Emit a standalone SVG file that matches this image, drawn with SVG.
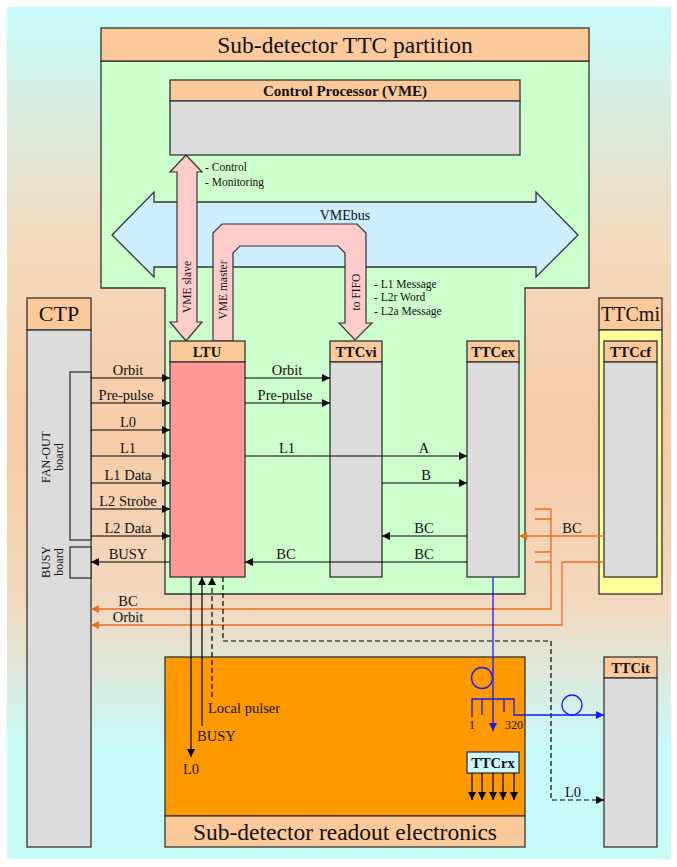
<svg xmlns="http://www.w3.org/2000/svg" width="677" height="867" viewBox="0 0 677 867">
<defs>
<linearGradient id="bg" gradientUnits="userSpaceOnUse" x1="0" y1="7" x2="0" y2="859">
<stop offset="0" stop-color="#c6fbfb"/>
<stop offset="0.28" stop-color="#f3d9bd"/>
<stop offset="0.5" stop-color="#f7cba6"/>
<stop offset="0.7" stop-color="#f2d8bf"/>
<stop offset="0.87" stop-color="#c8fafa"/>
<stop offset="1" stop-color="#c8fafa"/>
</linearGradient>
<marker id="ab" viewBox="0 0 10 10" refX="10" refY="5" markerWidth="9" markerHeight="8" markerUnits="userSpaceOnUse" orient="auto"><path d="M0,0 L10,5 L0,10 z" fill="#000"/></marker>
<marker id="ao" viewBox="0 0 10 10" refX="10" refY="5" markerWidth="9" markerHeight="8" markerUnits="userSpaceOnUse" orient="auto"><path d="M0,0 L10,5 L0,10 z" fill="#f26a1b"/></marker>
<marker id="abl" viewBox="0 0 10 10" refX="10" refY="5" markerWidth="9" markerHeight="8" markerUnits="userSpaceOnUse" orient="auto"><path d="M0,0 L10,5 L0,10 z" fill="#1a1aff"/></marker>
</defs>
<style>
text{font-family:"Liberation Serif","Times New Roman",serif;fill:#111}
.hd{fill:#fcc99a;stroke:#333;stroke-width:1.3}
.gb{fill:#dcdcdc;stroke:#333;stroke-width:1.3}
.big{font-size:23.5px;text-anchor:middle}
.bt{font-size:14.5px;font-weight:bold;text-anchor:middle}
.lb{font-size:14.5px;text-anchor:middle}
.sm{font-size:11.5px}
.rt{font-size:12px;text-anchor:middle}
.ln{stroke:#000;stroke-width:1.2;fill:none}
.or{stroke:#f26a1b;stroke-width:1.3;fill:none}
.bl{stroke:#1a1aff;stroke-width:1.3;fill:none}
.da{stroke:#000;stroke-width:1.2;fill:none;stroke-dasharray:5,3}
</style>
<rect x="0" y="0" width="677" height="867" fill="#fff"/>
<rect x="7" y="7" width="664" height="852" fill="url(#bg)"/>

<g id="ttc-partition">
<path d="M101,61 H589 V288 H525 V594 H165 V288 H101 Z" fill="#ccffcc" stroke="#333" stroke-width="1.3"/>
<rect class="hd" x="101" y="28" width="488" height="33"/>
<text class="big" x="345" y="53">Sub-detector TTC partition</text>
</g>

<g id="control-processor">
<rect class="hd" x="170" y="80" width="350" height="21"/>
<rect class="gb" x="170" y="101" width="350" height="54"/>
<text class="bt" x="345" y="96" style="font-size:15px">Control Processor (VME)</text>
</g>

<g id="vmebus">
<polygon points="112,235 154,192 154,202 536,202 536,192 578,235 536,277 536,267 154,267 154,277" fill="#cceeff" stroke="#333" stroke-width="1.3"/>
<text x="345" y="220" style="font-size:14px;text-anchor:middle">VMEbus</text>
</g>

<g id="vme-slave">
<polygon points="186,155 202,172 197,172 197,322 202,322 186,341 170,322 177,322 177,172 170,172" fill="#ffcccc" stroke="#333" stroke-width="1.2"/>
<text class="sm" transform="translate(191,287) rotate(-90)" text-anchor="middle">VME slave</text>
<text class="sm" x="205" y="171">- Control</text>
<text class="sm" x="205" y="186">- Monitoring</text>
</g>

<g id="vme-master">
<path d="M213,341 V233 L222,224 H357 L366,233 V323 H372 L355,340 L339,323 H345 V253 L338,246 H240 L233,253 V341 Z" fill="#ffcccc" stroke="#333" stroke-width="1.2"/>
<text class="sm" transform="translate(227,290) rotate(-90)" text-anchor="middle">VME master</text>
<text class="sm" transform="translate(360,292) rotate(-90)" text-anchor="middle">to FIFO</text>
<text class="sm" x="374" y="288">- L1 Message</text>
<text class="sm" x="374" y="301">- L2r Word</text>
<text class="sm" x="374" y="315">- L2a Message</text>
</g>

<g id="ctp">
<rect class="hd" x="27" y="298" width="64" height="32"/>
<text x="59" y="321" style="font-size:22px;text-anchor:middle">CTP</text>
<rect class="gb" x="27" y="330" width="64" height="517"/>
<rect class="gb" x="70" y="372" width="21" height="168"/>
<text class="rt" transform="translate(50,457) rotate(-90)">FAN-OUT</text>
<text class="rt" transform="translate(63,457) rotate(-90)">board</text>
<rect class="gb" x="70" y="547" width="21" height="31"/>
<text class="rt" transform="translate(50,562) rotate(-90)">BUSY</text>
<text class="rt" transform="translate(63,562) rotate(-90)">board</text>
</g>

<g id="ltu">
<rect class="hd" x="170" y="341" width="75" height="21"/>
<text class="bt" x="207" y="357">LTU</text>
<rect x="170" y="362" width="75" height="215" fill="#ff9999" stroke="#333" stroke-width="1.3"/>
</g>

<g id="ttcvi">
<rect class="hd" x="330" y="341" width="52" height="21"/>
<text class="bt" x="356" y="357">TTCvi</text>
<rect class="gb" x="330" y="362" width="52" height="215"/>
</g>

<g id="ttcex">
<rect class="hd" x="467" y="341" width="52" height="21"/>
<text class="bt" x="493" y="357">TTCex</text>
<rect class="gb" x="467" y="362" width="52" height="215"/>
</g>

<g id="ttcmi">
<rect class="hd" x="599" y="298" width="63" height="32"/>
<text x="630.5" y="321" style="font-size:20px;text-anchor:middle">TTCmi</text>
<rect x="599" y="330" width="63" height="264" fill="#ffff99" stroke="#333" stroke-width="1.3"/>
</g>

<g id="ttccf">
<rect class="hd" x="604" y="341" width="53" height="21"/>
<text class="bt" x="630.5" y="357">TTCcf</text>
<rect class="gb" x="604" y="362" width="53" height="215"/>
</g>

<g id="readout">
<rect x="165" y="657" width="360" height="159" fill="#ff9900" stroke="#333" stroke-width="1.3"/>
<rect class="hd" x="165" y="816" width="360" height="31"/>
<text class="big" x="345" y="840">Sub-detector readout electronics</text>
</g>

<g id="ttcrx">
<rect x="467" y="752" width="52" height="21" fill="#ccf7ff" stroke="#333" stroke-width="1.3"/>
<text class="bt" x="493" y="768">TTCrx</text>
</g>

<g id="ttcit">
<rect class="hd" x="604" y="657" width="53" height="21"/>
<text class="bt" x="630.5" y="673">TTCit</text>
<rect class="gb" x="604" y="678" width="53" height="169"/>
</g>

<g id="connectors">
<!-- CTP to LTU -->
<line class="ln" x1="91" y1="378" x2="170" y2="378" marker-end="url(#ab)"/>
<line class="ln" x1="91" y1="403" x2="170" y2="403" marker-end="url(#ab)"/>
<line class="ln" x1="91" y1="430" x2="170" y2="430" marker-end="url(#ab)"/>
<line class="ln" x1="91" y1="456" x2="170" y2="456" marker-end="url(#ab)"/>
<line class="ln" x1="91" y1="483" x2="170" y2="483" marker-end="url(#ab)"/>
<line class="ln" x1="91" y1="509" x2="170" y2="509" marker-end="url(#ab)"/>
<line class="ln" x1="91" y1="536" x2="170" y2="536" marker-end="url(#ab)"/>
<line class="ln" x1="170" y1="562" x2="91" y2="562" marker-end="url(#ab)"/>
<text class="lb" x="128" y="375">Orbit</text>
<text class="lb" x="126" y="400">Pre-pulse</text>
<text class="lb" x="128" y="427">L0</text>
<text class="lb" x="128" y="453">L1</text>
<text class="lb" x="128" y="480">L1 Data</text>
<text class="lb" x="128" y="506">L2 Strobe</text>
<text class="lb" x="128" y="533">L2 Data</text>
<text class="lb" x="128" y="559">BUSY</text>
<!-- LTU to TTCvi / TTCex -->
<line class="ln" x1="245" y1="378" x2="330" y2="378" marker-end="url(#ab)"/>
<line class="ln" x1="245" y1="403" x2="330" y2="403" marker-end="url(#ab)"/>
<line class="ln" x1="245" y1="456" x2="467" y2="456" marker-end="url(#ab)"/>
<line class="ln" x1="382" y1="483" x2="467" y2="483" marker-end="url(#ab)"/>
<line class="ln" x1="467" y1="536" x2="382" y2="536" marker-end="url(#ab)"/>
<line class="ln" x1="467" y1="562" x2="245" y2="562" marker-end="url(#ab)"/>
<text class="lb" x="287" y="375">Orbit</text>
<text class="lb" x="285" y="400">Pre-pulse</text>
<text class="lb" x="287" y="453">L1</text>
<text class="lb" x="424" y="453">A</text>
<text class="lb" x="426" y="480">B</text>
<text class="lb" x="424" y="533">BC</text>
<text class="lb" x="424" y="559">BC</text>
<text class="lb" x="286" y="559">BC</text>
<!-- orange -->
<line class="or" x1="604" y1="536" x2="519" y2="536" marker-end="url(#ao)"/>
<text class="lb" x="572" y="533">BC</text>
<path class="or" d="M535,509 H551 V609 H91" marker-end="url(#ao)"/>
<path class="or" d="M535,519 H551 M535,552 H551 M535,562 H551"/>
<path class="or" d="M604,562 H562 V625 H91" marker-end="url(#ao)"/>
<text class="lb" x="128" y="606">BC</text>
<text class="lb" x="128" y="622">Orbit</text>
<!-- dashed L0 to TTCit -->
<path class="da" d="M223,577 V641 H551 V800 H604" marker-end="url(#ab)"/>
<text class="lb" x="573" y="797">L0</text>
<!-- LTU bottom -->
<line class="ln" x1="191" y1="577" x2="191" y2="757" marker-end="url(#ab)"/>
<line class="ln" x1="202" y1="726" x2="202" y2="577" marker-end="url(#ab)"/>
<line class="da" x1="212" y1="697" x2="212" y2="577" marker-end="url(#ab)"/>
<text class="lb" x="191" y="774">L0</text>
<text x="197" y="741" style="font-size:14.5px">BUSY</text>
<text x="208" y="713" style="font-size:14.5px">Local pulser</text>
<!-- blue optical -->
<line class="bl" x1="493" y1="577" x2="493" y2="731" marker-end="url(#abl)"/>
<circle class="bl" cx="482" cy="678" r="10.5"/>
<path class="bl" d="M472,717 V699 H514 V715 H604" marker-end="url(#abl)"/>
<path class="bl" d="M482,699 V715 M504,699 V712"/>
<circle class="bl" cx="572" cy="705" r="10"/>
<text x="472" y="729" style="font-size:12px;text-anchor:middle">1</text>
<text x="514" y="729" style="font-size:12px;text-anchor:middle">320</text>
<!-- TTCrx outputs -->
<line class="ln" x1="472" y1="773" x2="472" y2="800" marker-end="url(#ab)"/>
<line class="ln" x1="482" y1="773" x2="482" y2="800" marker-end="url(#ab)"/>
<line class="ln" x1="493" y1="773" x2="493" y2="800" marker-end="url(#ab)"/>
<line class="ln" x1="503" y1="773" x2="503" y2="800" marker-end="url(#ab)"/>
<line class="ln" x1="514" y1="773" x2="514" y2="800" marker-end="url(#ab)"/>
</g>
</svg>
